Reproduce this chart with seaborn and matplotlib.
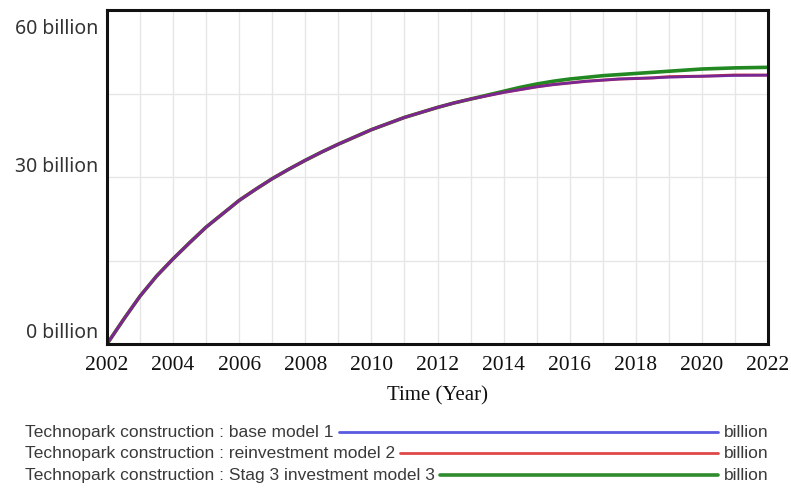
import matplotlib
matplotlib.use("Agg")
import matplotlib.pyplot as plt
import matplotlib.transforms as mtransforms
from matplotlib.lines import Line2D
import seaborn as sns
import pandas as pd

# dados (bilhões), a cada meio ano
anos = [2002 + i * 0.5 for i in range(41)]
base_modelo1 = [0, 4.4, 8.6, 12.2, 15.3, 18.2, 21.0, 23.4, 25.8, 27.8, 29.7,
                31.4, 33.0, 34.5, 35.9, 37.2, 38.5, 39.6, 40.7, 41.6, 42.5,
                43.3, 44.0, 44.6, 45.2, 45.7, 46.2, 46.6, 46.9, 47.2, 47.4,
                47.6, 47.7, 47.8, 47.9, 48.0, 48.1, 48.15, 48.2, 48.25, 48.3]
reinvest_modelo2 = [0, 4.4, 8.6, 12.2, 15.3, 18.2, 21.0, 23.4, 25.8, 27.8, 29.7,
                    31.4, 33.0, 34.5, 35.9, 37.2, 38.5, 39.6, 40.7, 41.6, 42.5,
                    43.3, 44.0, 44.6, 45.2, 45.7, 46.2, 46.6, 46.9, 47.2, 47.4,
                    47.6, 47.7, 47.8, 48.0, 48.05, 48.1, 48.2, 48.3, 48.3, 48.3]
stag3_modelo3 = [0, 4.4, 8.6, 12.2, 15.3, 18.2, 21.0, 23.4, 25.8, 27.8, 29.7,
                 31.4, 33.0, 34.5, 35.9, 37.2, 38.5, 39.6, 40.7, 41.6, 42.5,
                 43.3, 44.0, 44.7, 45.4, 46.1, 46.7, 47.2, 47.6, 47.9, 48.2,
                 48.4, 48.6, 48.8, 49.0, 49.2, 49.4, 49.5, 49.6, 49.65, 49.7]

nomes = ["Technopark construction : base model 1",
         "Technopark construction : reinvestment model 2",
         "Technopark construction : Stag 3 investment model 3"]
cores = ["#5a5ae0", "#e04848", "#2e8b2e"]
rotulos_y = ["0 billion", "30 billion", "60 billion"]
anos_ticks = list(range(2002, 2023, 2))

df = pd.DataFrame({
    "ano": anos * 3,
    "valor": stag3_modelo3 + reinvest_modelo2 + base_modelo1,
    "serie": [nomes[2]] * len(anos) + [nomes[1]] * len(anos) + [nomes[0]] * len(anos),
})

sns.set_style("white")
fig = plt.figure(figsize=(7.91, 4.90), dpi=100)
ax = fig.add_axes([107 / 791, 1 - 344 / 490, (768 - 107) / 791, (344 - 10) / 490])

# verde por baixo, depois vermelho, azul por cima (mistura em roxo)
sns.lineplot(data=df[df.serie == nomes[2]], x="ano", y="valor", color="#228822", lw=2.6, ax=ax)
sns.lineplot(data=df[df.serie == nomes[1]], x="ano", y="valor", color="#b02040", lw=2.2, ax=ax)
sns.lineplot(data=df[df.serie == nomes[0]], x="ano", y="valor", color="#5030d0", lw=1.8, alpha=0.6, ax=ax)

ax.set_xlim(2002, 2022)
ax.set_ylim(0, 60)
ax.set_xticks(range(2002, 2023))
ax.set_xticklabels([str(a) if a in anos_ticks else "" for a in range(2002, 2023)],
                   family="Liberation Serif", fontsize=15.5, color="#111111")
ax.set_yticks([0, 15, 30, 45, 60])
ax.set_yticklabels([rotulos_y[0], "", rotulos_y[1], "", rotulos_y[2]],
                   family="Noto Sans", fontsize=14, color="#333333")
ax.tick_params(length=0, pad=6)
ax.tick_params(axis="x", pad=9)
ax.grid(True, color="#e6e6e6", lw=1)
for s in ax.spines.values():
    s.set_color("#111111")
    s.set_linewidth(2.2)

# deslocamento dos rótulos do eixo y (estilo Vensim)
desloc = {0: 14, 2: 13, 4: -16}
for i, lab in enumerate(ax.get_yticklabels()):
    if i in desloc:
        lab.set_transform(lab.get_transform() + mtransforms.ScaledTranslation(0, desloc[i] / 100, fig.dpi_scale_trans))

ax.set_xlabel("Time (Year)", family="Liberation Serif", fontsize=15, labelpad=8, color="#111111")
ax.set_ylabel("")

# legenda no estilo Vensim
fig.canvas.draw()
renderer = fig.canvas.get_renderer()
linhas_y = [432, 453, 475]
for nome, cor, yp in zip(nomes, cores, linhas_y):
    yf = 1 - yp / 490
    t = fig.text(25 / 791, yf, nome, family="Liberation Sans", fontsize=12.5,
                 color="#3a3a3a", va="center", ha="left")
    bb = t.get_window_extent(renderer)
    x0 = bb.x1 / fig.bbox.width + 5 / 791
    fig.add_artist(Line2D([x0, 718 / 791], [yf, yf], color=cor, lw=2.0 if cor != cores[2] else 2.6,
                          transform=fig.transFigure))
    fig.text(724 / 791, yf, "billion", family="Liberation Sans", fontsize=12.5,
             color="#3a3a3a", va="center", ha="left")

fig.savefig("out.png", dpi=100)
